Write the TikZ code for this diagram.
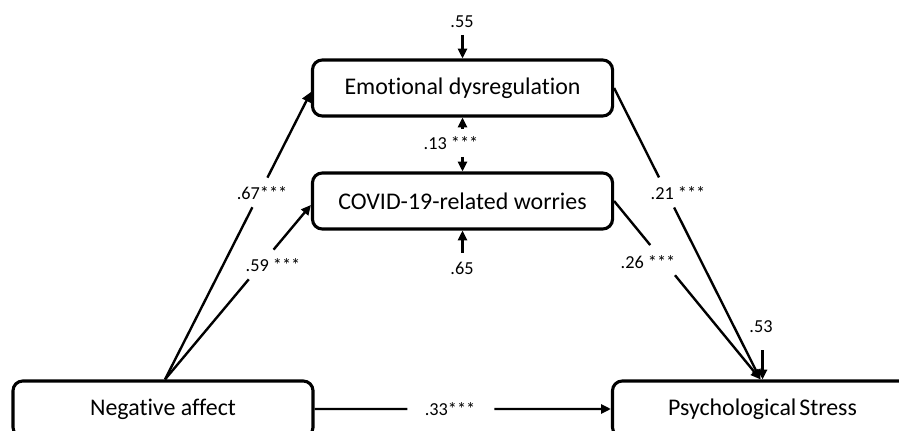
\documentclass[tikz,border=0pt]{standalone}
\usepackage{fontspec}
\setmainfont{Carlito}[Ligatures={NoCommon}]
\usetikzlibrary{arrows.meta,calc}
\begin{document}
\begin{tikzpicture}[x=0.025cm,y=-0.025cm,
  box/.style={draw, line width=2.2pt, rounded corners=7pt, minimum width=7.5cm, minimum height=1.4cm, inner sep=0pt, font=\fontsize{17}{20}\selectfont},
  lab/.style={inner sep=0pt, font=\fontsize{13}{15}\selectfont},
  ln/.style={line width=1.7pt},
  arr/.style={ln, -{Triangle[length=7pt,width=6.5pt]}}]
\clip (0,0) rectangle (899,431);
% boxes
\node[box] (ed)  at (462.5,88)  {Emotional dysregulation};
\node[box] (cov) at (462.5,201) {COVID-19-related worries};
\node[box] (na)  at (163,409)   {Negative affect};
\node[box] (ps)  at (762.5,409) {Psychological\hspace{0.12em}Stress};
% helper coordinates
\coordinate (naT) at ($(na.north)+(2,0)$);
\coordinate (edW) at ($(ed.west)+(0,4)$);
\coordinate (covW) at ($(cov.west)+(0,4)$);
\coordinate (psT) at ($(ps.north)+(-2,0)$);
% Negative affect -> mediators
\draw[ln] (naT) -- ($(naT)!0.599!(edW)$);
\draw[arr] ($(naT)!0.702!(edW)$) -- (edW);
\node[lab] (l67) at (262,193) {.67***};
\draw[ln] (naT) -- ($(naT)!0.574!(covW)$);
\draw[arr] ($(naT)!0.744!(covW)$) -- (covW);
\node[lab] (l59) at (273,265) {.59 ***};
% mediators -> Psychological Stress
\draw[ln] (ed.east) -- ($(ed.east)!0.307!(psT)$);
\draw[arr] ($(ed.east)!0.41!(psT)$) -- (psT);
\node[lab] (l21) at (678,193) {.21 ***};
\draw[ln] (cov.east) -- ($(cov.east)!0.247!(psT)$);
\draw[arr] ($(cov.east)!0.416!(psT)$) -- (psT);
\node[lab] (l26) at (648,262) {.26 ***};
% direct path
\draw[ln] (na.east) -- ($(na.east)!0.313!(ps.west)$);
\draw[arr] ($(na.east)!0.607!(ps.west)$) -- (ps.west);
\node[lab] (l33) at (450,409) {.33***};
% residuals / covariance
\coordinate (a55) at (462.5,35);
\draw[arr] (a55) -- (ed.north);
\node[lab] (l55) at (462,22) {.55};
\coordinate (a13) at (462.5,129);
\draw[arr] (a13) -- (ed.south);
\coordinate (b13) at (462.5,157);
\draw[arr] (b13) -- (cov.north);
\node[lab] (l13) at (451,143) {.13 ***};
\coordinate (a65) at (462.5,253);
\draw[arr] (a65) -- (cov.south);
\node[lab] (l65) at (462,268) {.65};
\coordinate (a53) at (762.5,350);
\draw[arr] (a53) -- (ps.north);
\node[lab] (l53) at (761,327) {.53};
\end{tikzpicture}
\end{document}
